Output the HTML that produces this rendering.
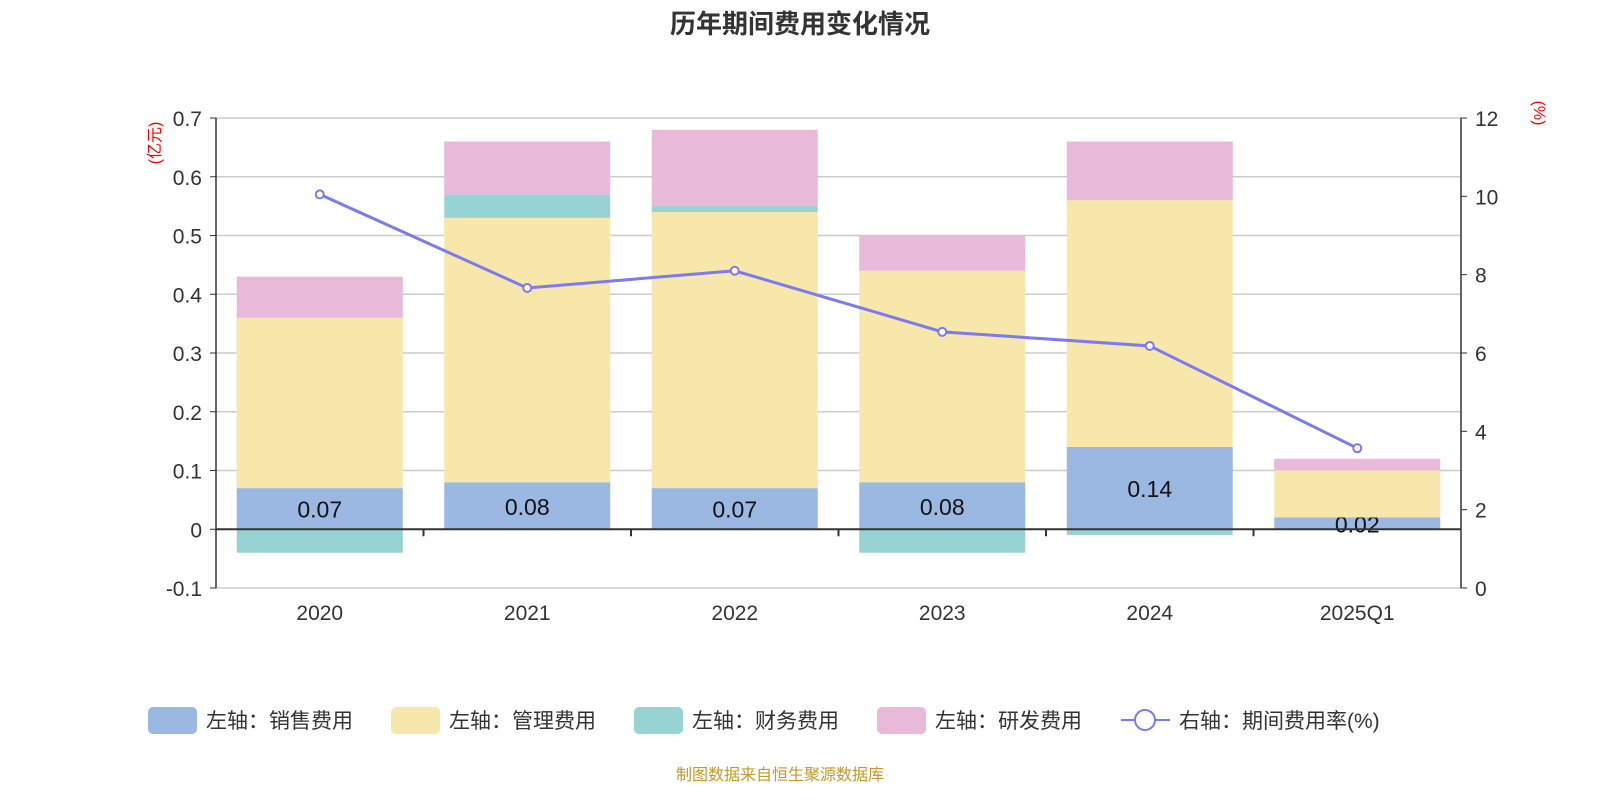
<!DOCTYPE html>
<html><head><meta charset="utf-8"><style>
body{margin:0;background:#fff;}
text{font-family:"Liberation Sans","Noto Sans CJK SC",sans-serif;}
</style></head><body>
<svg id="c" width="1600" height="800" xmlns="http://www.w3.org/2000/svg">
<text x="800" y="33" text-anchor="middle" font-size="26" font-weight="bold" fill="#333">历年期间费用变化情况</text>
<g id="g"></g>
<text x="780" y="780" text-anchor="middle" font-size="16" fill="#c8962a">制图数据来自恒生聚源数据库</text>
</svg>
<script>
const categories=["2020","2021","2022","2023","2024","2025Q1"];
const sales=[0.07,0.08,0.07,0.08,0.14,0.02];
const mgmt=[0.29,0.45,0.47,0.36,0.42,0.08];
const fin=[-0.04,0.04,0.01,-0.04,-0.01,0];
const rd=[0.07,0.09,0.13,0.06,0.10,0.02];
const rate=[10.05,7.66,8.1,6.54,6.18,3.57];
const leftTicks=[0.7,0.6,0.5,0.4,0.3,0.2,0.1,0,-0.1];
const leftTickLabels=["0.7","0.6","0.5","0.4","0.3","0.2","0.1","0","-0.1"];
const rightTicks=[0,2,4,6,8,10,12];
const NS="http://www.w3.org/2000/svg";
const g=document.getElementById('g');
const L=216,R=1461,T=118,B=588;
const yL=v=>B-(v+0.1)/0.8*(B-T);
const yR=v=>B-v/12*(B-T);
const bw=(R-L)/categories.length;
const xc=i=>L+bw*(i+0.5);
function el(t,a){const e=document.createElementNS(NS,t);for(const k in a)e.setAttribute(k,a[k]);g.appendChild(e);return e;}
leftTicks.forEach((v,i)=>{
 const y=yL(v);
 if(v!==0){const l=el('line',{x1:L,x2:R,y1:y,y2:y,stroke:'#ccc','stroke-width':1.5});
 
 }
 const t=el('text',{x:L-14,y:y+8,'text-anchor':'end','font-size':21,fill:'#333'});t.textContent=leftTickLabels[i];
 
 
 const tk=el('line',{x1:L-6,x2:L,y1:y,y2:y,stroke:'#333'});
 
 
});
rightTicks.forEach(v=>{
 const y=yR(v);
 const t=el('text',{x:R+14,y:y+8,'font-size':21,fill:'#333'});t.textContent=String(v);
 
 
 const tk=el('line',{x1:R,x2:R+6,y1:y,y2:y,stroke:'#333'});
 
 
});
function rect(x,v0,v1,fill,name){const y0=yL(v0),y1=yL(v1);const r=el('rect',{x:x-83,y:Math.min(y0,y1),width:166,height:Math.abs(y1-y0),fill});
 
 }
categories.forEach((c,i)=>{
 const x=xc(i);
 rect(x,0,sales[i],'#9bb8e2','bar-sales');
 const t=el('text',{x:x,y:(yL(0)+yL(sales[i]))/2+9,'text-anchor':'middle','font-size':23,fill:'#111'});t.textContent=sales[i].toFixed(2);
 
 
});
categories.forEach((c,i)=>{
 const x=xc(i);let top=sales[i];
 rect(x,top,top+mgmt[i],'#f8e7aa','bar-mgmt');top+=mgmt[i];
 if(fin[i]>=0){rect(x,top,top+fin[i],'#97d3d3','bar-finance');top+=fin[i];}
 else rect(x,0,fin[i],'#97d3d3','bar-finance');
 rect(x,top,top+rd[i],'#e8b9d8','bar-rd');
 const t=el('text',{x:x,y:620,'text-anchor':'middle','font-size':21,fill:'#333'});t.textContent=c;
 
 
});
let ax=el('line',{x1:L,x2:R,y1:yL(0),y2:yL(0),stroke:'#333','stroke-width':2});


for(let k=1;k<categories.length;k++){const tk=el('line',{x1:L+bw*k,x2:L+bw*k,y1:yL(0),y2:yL(0)+7,stroke:'#333','stroke-width':2});
 
 }
ax=el('line',{x1:L,x2:L,y1:T,y2:B,stroke:'#333','stroke-width':1.5});


ax=el('line',{x1:R,x2:R,y1:T,y2:B,stroke:'#333','stroke-width':1.5});


const pl=el('polyline',{points:rate.map((v,i)=>xc(i)+','+yR(v)).join(' '),fill:'none',stroke:'#7b7bef','stroke-width':3});


rate.forEach((v,i)=>{const c=el('circle',{cx:xc(i),cy:yR(v),r:4,fill:'#fff',stroke:'#7b7bef','stroke-width':2});
 
 });
let u=el('text',{x:0,y:0,'font-size':16,fill:'red',transform:'translate(160,143) rotate(-90)','text-anchor':'middle'});u.textContent='(亿元)';


u=el('text',{x:0,y:0,'font-size':16,fill:'red',transform:'translate(1534,113) rotate(90)','text-anchor':'middle'});u.textContent='(%)';


const legs=[["左轴：销售费用",'#9bb8e2',148],["左轴：管理费用",'#f8e7aa',391],["左轴：财务费用",'#97d3d3',634],["左轴：研发费用",'#e8b9d8',877]];
legs.forEach(l=>{const r=el('rect',{x:l[2],y:707,width:49,height:27,rx:5,fill:l[1]});
 
 
 const t=el('text',{x:l[2]+58,y:728,'font-size':21,fill:'#333'});t.textContent=l[0];
 
 });
let ll=el('line',{x1:1121,x2:1170,y1:720,y2:720,stroke:'#7b7bef','stroke-width':2});


let lc=el('circle',{cx:1145,cy:720,r:10,fill:'#fff',stroke:'#7b7bef','stroke-width':2});


let lt=el('text',{x:1179,y:728,'font-size':21,fill:'#333'});lt.textContent='右轴：期间费用率(%)';


</script>
</body></html>
